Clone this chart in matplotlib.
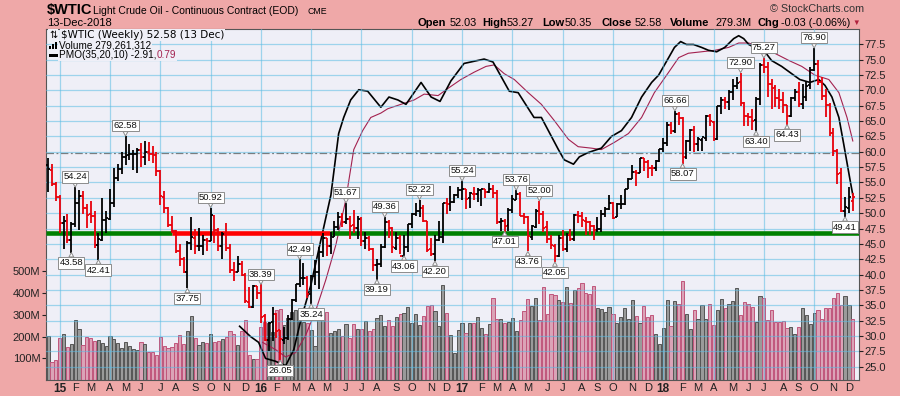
import numpy as np
import pandas as pd
import matplotlib
matplotlib.use('Agg')
import matplotlib.pyplot as plt
from matplotlib.patches import Rectangle
from matplotlib.ticker import FormatStrFormatter

plt.rcParams['font.family'] = ['Liberation Sans', 'DejaVu Sans']

# weekly $WTIC bars, first week starts Monday 15-Dec-2014
week_start = '2014-12-15'

opens = [
    57.80, 57.10, 54.70, 52.70, 48.40, 48.70, 45.60, 48.20, 51.70, 52.80,
    50.80, 49.80, 49.60, 44.80, 45.70, 48.90, 49.10, 51.60, 55.70, 57.20,
    59.20, 59.40, 59.70, 59.70, 60.30, 59.10, 59.90, 59.60, 59.40, 56.90,
    52.70, 50.90, 48.10, 47.10, 43.90, 42.50, 40.50, 45.20, 46.00, 44.60,
    44.70, 45.70, 45.50, 49.60, 47.30, 44.60, 46.60, 44.30, 40.70, 40.40,
    41.70, 40.00, 35.60, 34.70, 38.10, 37.00, 33.20, 29.40, 32.20, 33.60,
    30.90, 29.40, 29.60, 32.80, 35.90, 38.50, 39.40, 39.50, 36.80, 39.70,
    40.40, 43.70, 45.90, 44.70, 46.20, 47.80, 49.30, 48.60, 49.10, 48.00,
    47.60, 49.00, 45.40, 46.00, 44.20, 41.60, 41.80, 44.50, 48.50, 47.60,
    44.40, 45.90, 43.10, 44.50, 48.20, 49.80, 50.40, 50.90, 48.70, 44.10,
    43.40, 45.70, 46.10, 51.70, 51.50, 51.90, 53.00, 53.70, 54.00, 52.40,
    53.20, 53.20, 53.80, 53.90, 53.40, 54.00, 53.30, 48.50, 48.80, 48.00,
    50.60, 52.20, 53.20, 49.60, 49.30, 46.20, 47.80, 50.30, 49.80, 47.70,
    45.80, 44.70, 43.00, 46.00, 44.20, 46.50, 45.80, 49.70, 49.60, 48.80,
    48.50, 47.90, 47.30, 47.50, 49.90, 50.70, 51.70, 49.30, 51.50, 51.50,
    53.90, 55.60, 56.70, 56.60, 59.00, 58.40, 57.40, 57.30, 58.50, 60.40,
    61.40, 64.30, 63.40, 66.10, 65.50, 59.20, 61.70, 63.60, 61.30, 62.00,
    62.30, 65.90, 64.90, 62.10, 67.40, 68.40, 68.10, 69.70, 70.70, 71.30,
    67.90, 65.80, 65.70, 65.10, 68.60, 74.20, 73.80, 71.00, 70.50, 68.70,
    68.50, 67.60, 65.90, 68.70, 69.80, 67.80, 69.00, 70.80, 73.30, 74.30,
    71.30, 69.10, 67.60, 63.10, 60.20, 56.50, 50.40, 50.90, 52.03,
]
highs = [
    59.00, 58.00, 55.10, 53.00, 49.50, 49.80, 48.50, 54.24, 53.70, 53.60,
    51.50, 52.00, 50.30, 46.80, 52.48, 50.40, 54.00, 57.40, 58.00, 59.90,
    62.58, 61.20, 60.30, 60.60, 61.50, 61.80, 61.60, 61.00, 60.00, 57.00,
    53.60, 51.00, 49.50, 47.30, 45.00, 42.90, 45.50, 49.30, 47.40, 47.60,
    46.50, 46.00, 50.92, 49.70, 47.60, 47.00, 48.40, 44.90, 42.00, 43.00,
    42.20, 40.30, 37.90, 38.30, 38.20, 38.39, 33.60, 32.35, 34.80, 33.70,
    31.00, 31.50, 33.40, 36.00, 38.50, 42.49, 41.90, 39.70, 39.90, 42.40,
    44.50, 46.80, 46.00, 46.90, 48.80, 50.20, 50.00, 51.67, 49.50, 50.50,
    49.50, 49.40, 47.00, 46.30, 44.40, 42.50, 44.90, 49.36, 48.90, 47.70,
    47.00, 46.40, 46.50, 48.30, 50.00, 51.60, 52.22, 51.30, 48.80, 45.90,
    46.40, 48.80, 51.70, 52.40, 54.50, 53.20, 54.20, 55.24, 54.00, 53.40,
    54.30, 54.10, 54.00, 54.00, 54.90, 54.60, 53.80, 49.20, 49.00, 50.90,
    52.90, 53.76, 53.40, 50.10, 49.50, 48.00, 50.70, 52.00, 50.30, 48.80,
    46.50, 44.90, 46.40, 47.30, 46.70, 47.40, 49.90, 50.40, 50.20, 49.40,
    48.80, 48.00, 49.40, 50.50, 51.00, 52.90, 51.90, 51.60, 52.90, 54.00,
    55.70, 57.90, 57.10, 59.00, 59.00, 58.60, 57.90, 58.60, 60.50, 62.20,
    64.80, 64.90, 66.66, 66.40, 65.70, 61.90, 63.70, 64.20, 62.40, 62.30,
    66.00, 66.10, 65.00, 67.50, 69.00, 69.00, 70.00, 71.90, 72.20, 72.90,
    68.10, 66.30, 67.00, 69.00, 74.50, 75.27, 74.70, 71.90, 70.80, 70.30,
    69.80, 67.60, 69.00, 70.30, 71.40, 71.10, 71.40, 73.80, 76.90, 75.00,
    72.20, 70.20, 67.90, 63.80, 60.40, 57.40, 52.60, 54.20, 53.27,
]
lows = [
    53.50, 54.50, 52.00, 46.83, 44.20, 45.20, 43.58, 47.80, 47.30, 49.80,
    47.60, 48.40, 44.40, 42.41, 45.40, 46.70, 48.90, 51.00, 55.20, 56.40,
    57.80, 58.70, 57.00, 56.50, 57.50, 57.90, 58.50, 58.20, 56.00, 51.30,
    50.10, 47.70, 46.70, 43.50, 41.40, 40.20, 37.75, 44.00, 43.30, 43.90,
    43.20, 43.90, 45.50, 45.20, 43.90, 42.60, 43.90, 40.20, 38.99, 40.40,
    39.70, 35.30, 34.53, 34.60, 36.10, 32.10, 29.13, 27.56, 29.25, 29.60,
    26.05, 28.70, 29.30, 32.60, 35.50, 37.90, 38.30, 36.20, 35.24, 38.30,
    37.60, 42.90, 43.00, 43.30, 46.20, 47.20, 47.70, 48.20, 45.80, 46.70,
    45.80, 44.60, 44.10, 43.80, 40.60, 39.19, 41.20, 44.40, 46.00, 43.50,
    44.00, 43.40, 43.06, 43.70, 47.60, 49.60, 49.30, 48.60, 43.60, 43.00,
    42.20, 45.40, 45.10, 49.90, 50.30, 51.60, 52.50, 52.10, 50.70, 50.90,
    52.10, 51.90, 51.20, 52.40, 53.30, 52.40, 48.30, 47.10, 47.01, 47.10,
    50.10, 52.10, 49.50, 48.20, 43.76, 45.60, 47.60, 48.20, 46.90, 45.20,
    44.20, 42.05, 42.80, 43.80, 43.60, 45.40, 45.40, 48.40, 47.80, 46.50,
    46.50, 45.60, 47.00, 46.90, 49.30, 50.60, 49.10, 49.30, 50.70, 51.40,
    53.90, 55.50, 54.50, 56.60, 56.80, 55.80, 56.10, 56.80, 58.40, 60.00,
    61.00, 62.90, 63.10, 64.30, 58.07, 58.90, 60.20, 60.00, 60.20, 60.10,
    61.80, 64.20, 61.80, 62.00, 66.20, 67.00, 66.80, 68.40, 70.20, 67.50,
    64.20, 64.20, 63.60, 63.40, 67.60, 72.80, 69.00, 67.00, 67.30, 67.00,
    66.30, 64.43, 65.70, 68.30, 67.30, 66.90, 68.20, 70.30, 73.10, 70.80,
    68.50, 65.70, 62.60, 59.30, 54.80, 50.15, 49.41, 50.00, 50.35,
]
closes = [
    57.13, 54.73, 52.69, 48.36, 48.69, 45.59, 48.24, 51.69, 52.78, 50.81,
    49.76, 49.61, 44.84, 45.72, 48.87, 49.14, 51.64, 55.74, 57.15, 59.15,
    59.39, 59.69, 59.72, 60.30, 59.13, 59.96, 59.61, 59.43, 56.93, 52.74,
    50.89, 48.14, 47.12, 43.87, 42.50, 40.45, 45.22, 46.05, 44.63, 44.68,
    45.70, 45.54, 49.63, 47.26, 44.60, 46.59, 44.29, 40.74, 40.39, 41.71,
    39.97, 35.62, 34.73, 38.10, 37.04, 33.16, 29.42, 32.19, 33.62, 30.89,
    29.44, 29.64, 32.78, 35.92, 38.50, 39.44, 39.46, 36.79, 39.72, 40.36,
    43.73, 45.92, 44.66, 46.21, 47.75, 49.33, 48.62, 49.07, 47.98, 47.64,
    48.99, 45.41, 45.95, 44.19, 41.60, 41.80, 44.49, 48.52, 47.64, 44.44,
    45.88, 43.03, 44.48, 48.24, 49.81, 50.35, 50.85, 48.70, 44.07, 43.41,
    45.69, 46.06, 51.68, 51.50, 51.90, 53.02, 53.72, 53.99, 52.37, 53.22,
    53.17, 53.83, 53.86, 53.40, 53.99, 53.33, 48.49, 48.78, 47.97, 50.60,
    52.24, 53.18, 49.62, 49.33, 46.22, 47.84, 50.33, 49.80, 47.66, 45.83,
    44.74, 43.01, 46.04, 44.23, 46.54, 45.77, 49.71, 49.58, 48.82, 48.51,
    47.87, 47.29, 47.48, 49.89, 50.66, 51.67, 49.29, 51.45, 51.47, 53.90,
    55.64, 56.74, 56.55, 58.95, 58.36, 57.36, 57.30, 58.47, 60.42, 61.44,
    64.30, 63.37, 66.14, 65.45, 59.20, 61.68, 63.55, 61.25, 62.04, 62.34,
    65.88, 64.94, 62.06, 67.39, 68.38, 68.10, 69.72, 70.70, 71.28, 67.88,
    65.81, 65.74, 65.06, 68.58, 74.15, 73.80, 71.01, 70.46, 68.69, 68.49,
    67.63, 65.91, 68.72, 69.80, 67.75, 68.99, 70.78, 73.25, 74.34, 71.34,
    69.12, 67.59, 63.14, 60.19, 56.46, 50.42, 50.93, 52.61, 52.58,
]
# weekly volume, millions
volume_m = [
    204, 81, 92, 192, 210, 150, 164, 274, 233, 159,
    196, 192, 179, 184, 172, 156, 201, 189, 169, 147,
    173, 156, 141, 138, 175, 166, 130, 130, 113, 196,
    156, 147, 150, 172, 205, 166, 227, 294, 195, 159,
    175, 169, 211, 175, 179, 190, 196, 225, 213, 159,
    225, 276, 115, 97, 97, 245, 265, 261, 222, 322,
    325, 253, 284, 314, 322, 290, 268, 260, 230, 156,
    284, 279, 311, 215, 227, 233, 202, 257, 195, 257,
    233, 233, 271, 225, 233, 285, 299, 248, 276, 248,
    288, 303, 307, 334, 264, 303, 251, 294, 340, 345,
    317, 248, 437, 310, 207, 126, 230, 264, 218, 264,
    264, 291, 238, 211, 257, 375, 279, 279, 264, 268,
    284, 225, 276, 317, 371, 340, 375, 276, 426, 303,
    395, 391, 368, 360, 426, 352, 414, 421, 444, 398,
    395, 432, 330, 326, 314, 337, 303, 264, 291, 330,
    279, 366, 294, 261, 340, 288, 299, 211, 166, 238,
    368, 248, 363, 348, 455, 303, 233, 322, 279, 345,
    279, 349, 253, 322, 371, 333, 349, 363, 421, 299,
    357, 349, 334, 265, 386, 377, 276, 320, 268, 267,
    273, 239, 245, 211, 245, 330, 299, 257, 307, 322,
    279, 330, 330, 375, 398, 345, 386, 345, 279.3,
]

# PMO(35,20,10) and its signal line, read at week positions
pmo_week = [49.5, 52.3, 54.4, 56.2, 58.8, 61.4, 63.5, 65.3, 67.9, 70.5,
            73.1, 75.1, 76.4, 78.2, 80.3, 82.6, 86.0, 88.1, 90.4, 92.5,
            96.4, 99.0, 101.3, 104.1, 107.5, 112.7, 115.0, 119.2, 121.5, 125.6,
            127.5, 131.9, 133.4, 135.8, 137.3, 139.6, 143.0, 145.6, 148.2, 150.8,
            153.4, 156.0, 157.8, 160.4, 161.9, 163.5, 165.0, 166.8, 168.9, 170.7,
            172.8, 174.9, 177.2, 178.5, 179.8, 181.1, 182.6, 185.0, 187.0, 189.6,
            192.2, 194.3, 196.9, 199.2, 200.8, 202.6, 204.4, 205.7, 207.3, 208.0]
pmo_val = [-11.9, -12.6, -13.0, -14.1, -14.3, -14.6, -13.5, -11.5, -9.1, -6.0,
           -2.9, 1.3, 2.4, 3.6, 4.3, 4.2, 3.1, 3.8, 3.6, 3.3,
           4.8, 3.8, 3.5, 4.9, 6.1, 6.4, 6.2, 4.2, 4.1, 2.4,
           2.4, 0.2, -0.5, -0.8, -0.3, 0.0, 0.3, 1.1, 1.5, 2.4,
           3.8, 4.8, 5.3, 6.5, 7.2, 7.6, 7.4, 7.4, 7.2, 7.0,
           6.9, 7.2, 7.8, 8.0, 7.8, 7.4, 7.2, 7.0, 6.3, 5.9,
           5.4, 5.0, 4.8, 5.0, 4.6, 3.8, 2.4, 0.5, -1.9, -2.91]
sig_week = [55.4, 58.8, 61.4, 64.0, 66.6, 69.2, 71.8, 74.4, 76.9, 79.0,
            81.3, 83.4, 86.0, 87.8, 91.2, 94.6, 97.2, 100.8, 103.4, 106.7,
            110.1, 113.2, 115.3, 117.9, 120.5, 124.1, 127.5, 130.8, 134.5, 137.0,
            140.4, 143.0, 146.4, 150.0, 153.4, 156.7, 160.4, 163.0, 165.5, 168.9,
            172.3, 175.9, 178.5, 181.1, 184.5, 187.8, 191.5, 194.8, 198.2, 201.8,
            204.4, 206.5, 208.0]
sig_val = [-13.0, -13.5, -14.0, -13.7, -12.5, -10.8, -8.7, -6.3, -3.3, 0.2,
           1.5, 2.4, 2.7, 3.0, 3.3, 3.6, 4.0, 3.9, 4.4, 5.0,
           5.5, 5.9, 6.0, 5.4, 5.0, 4.1, 3.3, 2.2, 0.9, 0.4,
           0.3, 0.2, 0.7, 1.3, 2.4, 4.1, 5.5, 6.5, 6.8, 6.9,
           7.0, 7.2, 7.5, 7.5, 7.2, 6.8, 6.3, 5.9, 5.3, 5.0,
           4.1, 2.4, 0.79]

# labelled swing points: (week index, H = high / L = low)
swing_labels = [(6, 'L'), (7, 'H'), (13, 'L'), (20, 'H'), (36, 'L'), (42, 'H'),
                (55, 'H'), (60, 'L'), (65, 'H'), (68, 'L'), (77, 'H'), (85, 'L'),
                (87, 'H'), (92, 'L'), (96, 'H'), (100, 'L'), (107, 'H'), (118, 'L'),
                (121, 'H'), (124, 'L'), (127, 'H'), (131, 'L'), (162, 'H'), (164, 'L'),
                (179, 'H'), (183, 'L'), (185, 'H'), (191, 'L'), (198, 'H'), (206, 'L')]

support_level = 46.85

o = np.array(opens)
hi = np.array(highs)
lo = np.array(lows)
c = np.array(closes)
n = len(c)
x = np.arange(n)
dates = pd.date_range(week_start, periods=n, freq='7D')
up = np.r_[True, c[1:] >= c[:-1]]

W, H = 900, 396
BG = '#efa8a8'
PLOT_BG = '#efeff7'
GRID = '#5bbce4'

fig = plt.figure(figsize=(W / 100, H / 100), dpi=100, facecolor=BG)
rect = [46 / W, 1 - 380 / H, (859 - 46) / W, (380 - 29) / H]
ax_v = fig.add_axes(rect)
ax_m = fig.add_axes(rect, sharex=ax_v)
ax_p = fig.add_axes(rect, sharex=ax_v)
ax_v.set_facecolor(PLOT_BG)
for a in (ax_m, ax_p):
    a.set_facecolor('none')
    for s in a.spines.values():
        s.set_visible(False)
for s in ax_v.spines.values():
    s.set_color('#555555')
    s.set_linewidth(0.8)

x0, x1 = -0.55, n + 0.6
ax_v.set_xlim(x0, x1)

# volume
vface = np.where(up, '#9a9a9a', '#dba3b7')
vedge = np.where(up, '#555555', '#c0567c')
ax_v.bar(x, volume_m, width=0.82, color=vface, edgecolor=vedge, linewidth=0.7)
ax_v.set_ylim(0, 1614)
ax_v.set_yticks([100, 200, 300, 400, 500])
ax_v.set_yticklabels(['100M', '200M', '300M', '400M', '500M'])
ax_v.tick_params(axis='y', length=3, width=0.8, pad=1, labelsize=8, colors='#222222')
ax_v.tick_params(axis='x', bottom=False, labelbottom=False)

# PMO
ax_m.set_ylim(-15.58, 8.46)
ax_m.axhline(0, color='#7a7a7a', lw=0.9, ls=(0, (6, 2, 1.5, 2)))
ax_m.plot(sig_week, sig_val, color='#a3214f', lw=0.8)
ax_m.plot(pmo_week, pmo_val, color='black', lw=1.2)
ax_m.set_yticks([])
ax_m.tick_params(axis='x', bottom=False, labelbottom=False)

# price panel
ax_p.set_ylim(22.83, 80.0)
levels = np.arange(25, 78, 2.5)
for lv in levels:
    ax_p.axhline(lv, color=GRID, alpha=0.55, lw=0.9, zorder=0.5)

month_pos, month_lab, quarter_pos = [], [], []
for i in range(1, n):
    if dates[i].month != dates[i - 1].month:
        month_pos.append(i)
        m = dates[i].month
        month_lab.append(dates[i].strftime('%y') if m == 1 else 'JFMAMJJASOND'[m - 1])
        if m in (1, 4, 7, 10):
            quarter_pos.append(i)
for q in quarter_pos:
    ax_p.axvline(q, color=GRID, alpha=0.55, lw=0.9, zorder=0.5)

seg_from = [x0, 32.0, 72.9]
seg_to = [32.0, 72.9, x1]
seg_col = ['#008000', '#ff0000', '#008000']
for a0, a1, col in zip(seg_from, seg_to, seg_col):
    ax_p.hlines(support_level, a0, a1, colors=col, lw=3.3, zorder=1)

pcol = np.where(up, 'black', '#e8000b')
ax_p.vlines(x, lo, hi, colors=pcol, lw=1.3, zorder=3)
ax_p.hlines(o, x - 0.5, x, colors=pcol, lw=1.3, zorder=3)
ax_p.hlines(c, x, x + 0.5, colors=pcol, lw=1.3, zorder=3)

for idx, kind in swing_labels:
    val = hi[idx] if kind == 'H' else lo[idx]
    dy = 7.4 if kind == 'H' else -7.4
    ax_p.annotate(f'{val:.2f}', xy=(idx, val), xytext=(0, dy), textcoords='offset points',
                  ha='center', va='center', fontsize=6.8, color='#111111', zorder=6,
                  bbox=dict(boxstyle='square,pad=0.12', fc='white', ec='#8c8c8c', lw=0.7),
                  arrowprops=dict(arrowstyle='wedge,tail_width=0.5', fc='white', ec='#8c8c8c',
                                  lw=0.7, shrinkA=0, shrinkB=0))

ax_p.yaxis.tick_right()
ax_p.set_yticks(levels)
ax_p.yaxis.set_major_formatter(FormatStrFormatter('%.1f'))
ax_p.tick_params(axis='y', length=3, width=0.8, pad=1, labelsize=8, colors='#222222')
ax_p.set_xticks(month_pos)
ax_p.set_xticklabels(month_lab)
ax_p.tick_params(axis='x', length=0, pad=2.5, labelsize=8, colors='#222222')
for t in ax_p.get_xticklabels():
    if t.get_text().isdigit():
        t.set_fontweight('bold')
        t.set_fontsize(8.5)


def px(xp, yp):
    return xp / W, 1 - yp / H


# header
fig.text(*px(47, 10), '$WTIC', fontsize=10.5, fontweight='bold', va='center')
fig.text(*px(93, 10.5), 'Light Crude Oil - Continuous Contract (EOD)', fontsize=7.5, va='center')
fig.text(*px(307, 11), 'CME', fontsize=6.3, va='center')
fig.text(*px(47, 23), '13-Dec-2018', fontsize=8, va='center')
fig.text(*px(770, 9), '\u00a9 StockCharts.com', fontsize=7.8, va='center', color='#333333')
stats = [(417, 'Open', True), (450, '52.03', False), (482, 'High', True), (507, '53.27', False),
         (542, 'Low', True), (565, '50.35', False), (602, 'Close', True), (635, '52.58', False),
         (670, 'Volume', True), (715, '279.3M', False), (757, 'Chg', True),
         (781, '-0.03 (-0.06%)', False)]
for xp, s, bold in stats:
    fig.text(*px(xp, 23), s, fontsize=7.8 if not bold else 8, va='center',
             fontweight='bold' if bold else 'normal')
fig.text(*px(852, 23), '\u25bc', fontsize=5.5, va='center', color='#b0203c')

# in-chart legend
lbg = dict(fc=PLOT_BG, ec='none', pad=0.6)
fig.text(*px(49, 35), '\u21c5', fontsize=7, va='center', family=['DejaVu Sans'], bbox=lbg)
fig.text(*px(61, 35), '$WTIC (Weekly) 52.58 (13 Dec)', fontsize=7.5, va='center',
         family=['DejaVu Sans'], bbox=lbg)
for k, hh in enumerate([3, 5, 7]):
    fig.add_artist(Rectangle(px(49 + k * 3, 49), 2 / W, hh / H, transform=fig.transFigure,
                             fc='black', ec='none'))
fig.text(*px(59, 45.5), 'Volume 279,261,312', fontsize=7.2, va='center', bbox=lbg)
fig.add_artist(Rectangle(px(49, 56.5), 9 / W, 2 / H, transform=fig.transFigure,
                         fc='black', ec='none'))
fig.text(*px(59, 55.5), 'PMO(35,20,10) -2.91,', fontsize=7.2, va='center', bbox=lbg)
fig.text(*px(157, 55.5), '0.79', fontsize=7.2, va='center', color='#a3214f', bbox=lbg)

fig.savefig('out.png', dpi=100, facecolor=BG)
